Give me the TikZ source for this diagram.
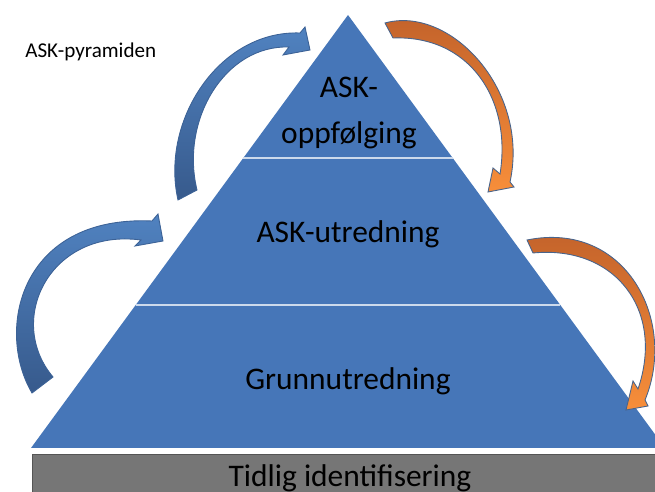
\documentclass[tikz,border=0pt]{standalone}
\usepackage{fontspec}
\setmainfont{Carlito}
\usetikzlibrary{calc}

\definecolor{pyrblue}{RGB}{70,118,184}
\definecolor{divline}{RGB}{205,218,236}
\definecolor{bargray}{RGB}{118,118,118}
\definecolor{baredge}{RGB}{85,85,85}
\definecolor{blueL}{RGB}{80,130,192}
\definecolor{blueD}{RGB}{55,90,140}
\definecolor{blueedge}{RGB}{60,98,150}
\definecolor{orangeD}{RGB}{192,96,42}
\definecolor{orangeL}{RGB}{247,142,58}
\definecolor{orangeedge}{RGB}{72,100,140}

\begin{document}
\begin{tikzpicture}[x=0.02cm, y=-0.02cm,
	leveltext/.style={font=\fontsize{17.9}{26}\selectfont, align=center, inner sep=0},
	divider/.style={draw=divline, line width=1.2pt},
	bluearrow/.style={draw=blueedge, line width=0.5pt, top color=blueL, bottom color=blueD},
	orangearrow/.style={draw=orangeedge, line width=0.5pt, top color=orangeD, bottom color=orangeL}]
	\useasboundingbox (0,0) rectangle (655,492);
	\clip (0,0) rectangle (655,492);

	% pyramid
	\coordinate (apex) at (348,15);
	\coordinate (baseL) at (31,448);
	\coordinate (baseR) at (665,448);
	\fill [pyrblue] (apex) -- (baseL) -- (baseR) -- cycle;
	\draw [divider] ($(apex)!0.33!(baseL)$) -- ($(apex)!0.33!(baseR)$);
	\draw [divider] ($(apex)!0.67!(baseL)$) -- ($(apex)!0.67!(baseR)$);

	% bottom bar
	\draw [fill=bargray, draw=baredge] (32,454) rectangle (670,510);

	\node (oppfolging) at (349,113) [leveltext] {ASK-\\oppfølging};
	\node (utredning) at (348,243) [anchor=base, leveltext] {ASK-utredning};
	\node (grunn) at (348,390) [anchor=base, leveltext] {Grunnutredning};
	\node (tidlig) at (350,486) [anchor=base, leveltext] {Tidlig identifisering};
	\node (title) at (25,58) [anchor=base west, font=\fontsize{12}{14}\selectfont, inner sep=0] {ASK-pyramiden};

	% blue arrows
	\shadedraw [bluearrow] (178,200) .. controls (160,120) and (220,30) .. (300,33)
		-- (305,27) -- (310,50) -- (283,55) -- (289,47)
		.. controls (225,45) and (180,120) .. (197,190) -- cycle;
	\shadedraw [bluearrow] (32,393) .. controls (-5,330) and (20,215) .. (152,221)
		-- (158,214) -- (163,241) -- (135,246) -- (141,240)
		.. controls (50,228) and (5,320) .. (53,377) -- cycle;

	% orange arrows
	\shadedraw [orangearrow] (385,23) .. controls (450,5) and (530,90) .. (510,182)
		-- (514,187) -- (488,192) -- (493,168) -- (500,174)
		.. controls (512,100) and (470,35) .. (393,38) -- cycle;
	\shadedraw [orangearrow] (527,240) .. controls (625,220) and (678,320) .. (645,400)
		-- (648,406) -- (626,410) -- (633,381) -- (638,389)
		.. controls (665,310) and (615,245) .. (533,253) -- cycle;
\end{tikzpicture}
\end{document}
